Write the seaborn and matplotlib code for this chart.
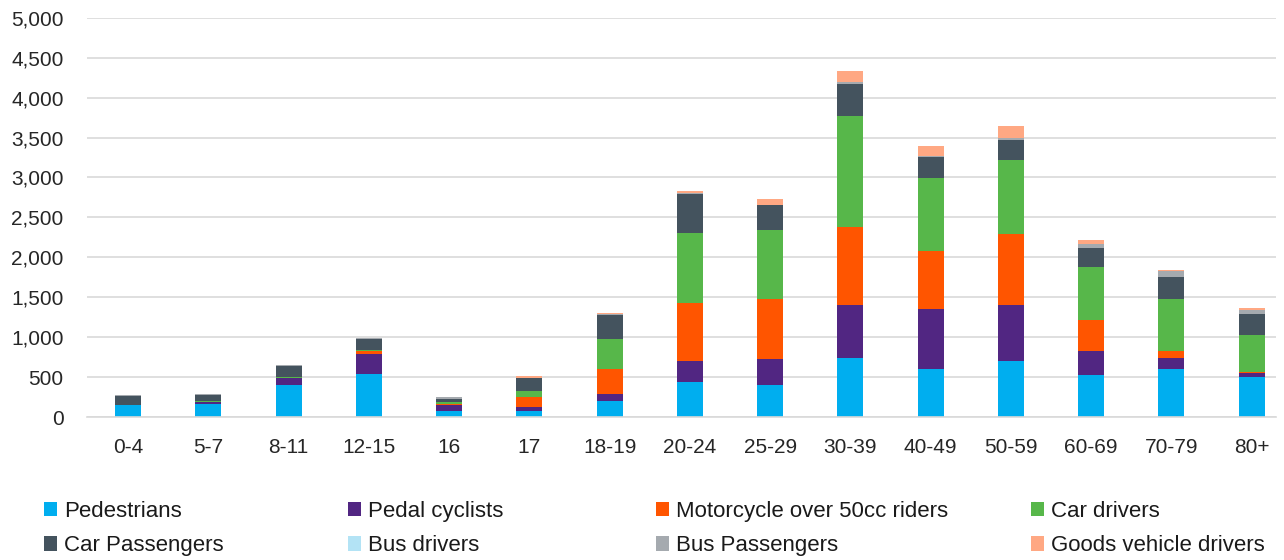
import pandas as pd
import numpy as np
import matplotlib.pyplot as plt
from matplotlib.patches import Patch
import seaborn as sns

ages = ['0-4', '5-7', '8-11', '12-15', '16', '17', '18-19', '20-24', '25-29',
        '30-39', '40-49', '50-59', '60-69', '70-79', '80+']

pedestrians = [150, 170, 405, 546, 80, 84, 209, 438, 405, 742, 600, 709, 534, 600, 509]
pedal_cyclists = [5, 20, 83, 250, 70, 45, 83, 271, 320, 667, 755, 700, 300, 138, 46]
motorcycle = [0, 3, 5, 38, 12, 125, 312, 721, 755, 971, 720, 883, 379, 96, 16]
car_drivers = [3, 5, 8, 5, 28, 80, 375, 879, 866, 1391, 921, 921, 671, 650, 463]
car_passengers = [105, 77, 135, 140, 45, 155, 305, 487, 304, 396, 254, 250, 229, 266, 254]
bus_drivers = [0, 0, 0, 0, 0, 0, 2, 3, 3, 5, 3, 5, 4, 2, 1]
bus_passengers = [15, 20, 20, 18, 22, 8, 10, 5, 7, 16, 10, 32, 50, 73, 49]
goods_drivers = [0, 0, 3, 0, 3, 16, 15, 30, 70, 146, 133, 146, 54, 21, 25]

series = ['Pedestrians', 'Pedal cyclists', 'Motorcycle over 50cc riders', 'Car drivers',
          'Car Passengers', 'Bus drivers', 'Bus Passengers', 'Goods vehicle drivers']
colors = ['#00AEEF', '#512682', '#FF5500', '#57B74A',
          '#44535E', '#B3E3F5', '#A5AAAF', '#FFA883']

values = [pedestrians, pedal_cyclists, motorcycle, car_drivers,
          car_passengers, bus_drivers, bus_passengers, goods_drivers]

rows = []
for name, vals in zip(series, values):
    for age, v in zip(ages, vals):
        rows.append({'age': age, 'type': name, 'count': v})
df = pd.DataFrame(rows)
df['age'] = pd.Categorical(df['age'], categories=ages, ordered=True)

sns.set_style('white')
plt.rcParams['font.family'] = ['Liberation Sans', 'DejaVu Sans']

fig = plt.figure(figsize=(12.84, 5.6), dpi=100)
ax = fig.add_axes([0.068, 0.2548, 0.9258, 0.7138])

# seaborn stacks the last hue level at the bottom, so reverse the order
sns.histplot(data=df, x='age', weights='count', hue='type',
             hue_order=series[::-1], palette=dict(zip(series, colors)),
             multiple='stack', discrete=True, shrink=0.324,
             linewidth=0, alpha=1, legend=False, ax=ax)

ax.set_xlim(-0.507, 14.303)
ax.set_ylim(0, 5000)
ax.set_yticks(np.arange(0, 5001, 500))
ax.set_yticklabels([f'{v:,}' for v in range(0, 5001, 500)])
ax.set_xticks(range(len(ages)))
ax.set_xticklabels(ages)
ax.set_xlabel('')
ax.set_ylabel('')
ax.yaxis.grid(True, color='#D9D9D9', linewidth=1.2)
ax.set_axisbelow(True)
for s in ['top', 'right', 'left']:
    ax.spines[s].set_visible(False)
ax.spines['bottom'].set_color('#D9D9D9')
ax.spines['bottom'].set_linewidth(1.2)
ax.tick_params(axis='both', length=0, labelsize=15, colors='#262626')
ax.tick_params(axis='y', pad=17)
ax.tick_params(axis='x', pad=15)

# legend in four columns, two entries each
col_x = [44, 348, 656, 1031]
for i, x in enumerate(col_x):
    handles = [Patch(facecolor=colors[i], edgecolor='none'),
               Patch(facecolor=colors[i + 4], edgecolor='none')]
    fig.legend(handles, [series[i], series[i + 4]], loc='upper left',
               bbox_to_anchor=(x / 1284, 1 - 501 / 560), frameon=False,
               fontsize=16, borderpad=0, borderaxespad=0,
               handlelength=0.6, handleheight=0.6, handletextpad=0.3,
               labelspacing=0.6, labelcolor='#1a1a1a')

fig.savefig('out.png', dpi=100)
